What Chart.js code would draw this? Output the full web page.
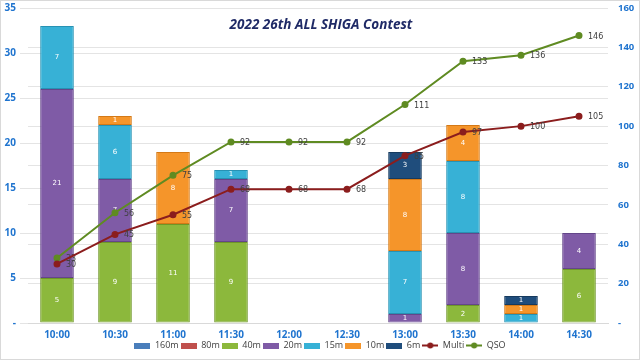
<!DOCTYPE html>
<html>
<head>
<meta charset="utf-8">
<script src="https://cdn.jsdelivr.net/npm/chart.js@4.4.0/dist/chart.umd.min.js"></script>
<style>
html,body{margin:0;padding:0;background:#fff;}
#wrap{width:640px;height:360px;position:relative;}
</style>
</head>
<body>
<div id="wrap"><canvas id="myChart"></canvas></div>
<script>
'use strict';
var timeLabels=['10:00','10:30','11:00','11:30','12:00','12:30','13:00','13:30','14:00','14:30'];
var band160m=[0,0,0,0,0,0,0,0,0,0];
var band80m=[0,0,0,0,0,0,0,0,0,0];
var band40m=[5,9,11,9,0,0,0,2,0,6];
var band20m=[21,7,0,7,0,0,1,8,0,4];
var band15m=[7,6,0,1,0,0,7,8,1,0];
var band10m=[0,1,8,0,0,0,8,4,1,0];
var band6m=[0,0,0,0,0,0,3,0,1,0];
var multiTotal=[30,45,55,68,68,68,85,97,100,105];
var qsoTotal=[33,56,75,92,92,92,111,133,136,146];
var leftTicks=[0,5,10,15,20,25,30,35];
var rightTicks=[0,20,40,60,80,100,120,140,160];

var tickBlue='#1f74cf';
var bandColors=['#4a7ebb','#c0504d','#8cb83c','#7f5ba6','#37b1d6','#f5952a','#1f4d7c'];
var bandBorders=['#3a6598','#9c3e3b','#6f9629','#64468a','#2792b3','#d47916','#163a5e'];
var multiColor='#8b1d1d';
var qsoColor='#5f8b22';

function swatch(color,isLine){
  var c=document.createElement('canvas');
  c.width=16;c.height=isLine?7:6;
  var g=c.getContext('2d');
  if(isLine){
    g.strokeStyle=color;g.lineWidth=2;
    g.beginPath();g.moveTo(0,3.5);g.lineTo(16,3.5);g.stroke();
    g.fillStyle=color;g.beginPath();g.arc(8,3.5,3,0,Math.PI*2);g.fill();
  }else{
    g.fillStyle=color;g.fillRect(0,0,16,6);
  }
  return c;
}
var swatches=bandColors.map(function(c){return swatch(c,false);});
swatches.push(swatch(multiColor,true));
swatches.push(swatch(qsoColor,true));

function bandSet(name,data,i){
  return {
    type:'bar',label:name,data:data,yAxisID:'y',stack:'bands',order:2,
    backgroundColor:bandColors[i],borderColor:bandBorders[i],borderWidth:1,borderSkipped:false,
    categoryPercentage:1,barPercentage:0.58
  };
}
function lineSet(name,data,color){
  return {
    type:'line',label:name,data:data,yAxisID:'y1',order:1,
    borderColor:color,backgroundColor:color,borderWidth:2,
    pointRadius:2.5,pointHoverRadius:2.5,pointBackgroundColor:color,pointBorderColor:color,
    tension:0,fill:false
  };
}

var chartFrame={
  id:'chartFrame',
  beforeDraw:function(chart){
    var ctx=chart.ctx;
    ctx.save();
    ctx.fillStyle='#fff';ctx.fillRect(0,0,chart.width,chart.height);
    ctx.strokeStyle='#d9d9d9';ctx.lineWidth=1;
    ctx.strokeRect(0.5,0.5,chart.width-1,chart.height-1);
    ctx.restore();
  },
  afterDraw:function(chart){
    var ctx=chart.ctx;
    ctx.save();
    ctx.font='italic bold 13.5px "Open Sans"';
    ctx.fillStyle='#1f2a66';
    ctx.textAlign='center';ctx.textBaseline='middle';
    ctx.fillText('2022 26th ALL SHIGA Contest',321,25);
    ctx.restore();
  }
};

var valueLabels={
  id:'valueLabels',
  afterDatasetDraw:function(chart,args){
    var ds=chart.data.datasets[args.index];
    var ctx=chart.ctx;
    ctx.save();
    args.meta.data.forEach(function(el,j){
      var v=ds.data[j];
      if(!v) return;
      if(ds.type==='line'){
        ctx.font='8px "DejaVu Sans"';
        ctx.fillStyle='#404040';
        ctx.textAlign='left';ctx.textBaseline='middle';
        ctx.fillText(v,el.x+9,el.y+1);
      }else{
        ctx.font='7px "DejaVu Sans"';
        ctx.fillStyle='#ffffff';
        ctx.textAlign='center';ctx.textBaseline='middle';
        ctx.fillText(v,el.x,(el.y+el.base)/2);
      }
    });
    ctx.restore();
  }
};

var tickFont={family:'"Open Sans"',size:10,weight:'bold'};
var ctx=document.getElementById('myChart').getContext('2d');
var chart=new Chart(ctx,{
  data:{
    labels:timeLabels,
    datasets:[
      bandSet('160m',band160m,0),
      bandSet('80m',band80m,1),
      bandSet('40m',band40m,2),
      bandSet('20m',band20m,3),
      bandSet('15m',band15m,4),
      bandSet('10m',band10m,5),
      bandSet('6m',band6m,6),
      lineSet('Multi',multiTotal,multiColor),
      lineSet('QSO',qsoTotal,qsoColor)
    ]
  },
  options:{
    responsive:true,maintainAspectRatio:false,animation:false,
    layout:{padding:{top:8,bottom:0,left:0,right:0}},
    plugins:{
      title:{display:false},
      tooltip:{enabled:false},
      legend:{
        position:'bottom',
        labels:{
          usePointStyle:true,pointStyleWidth:16,boxHeight:9,padding:2,
          color:'#404040',font:{family:'"Open Sans"',size:9},
          sort:function(a,b){return a.datasetIndex-b.datasetIndex;},
          generateLabels:function(chart){
            var items=Chart.defaults.plugins.legend.labels.generateLabels(chart);
            items.forEach(function(it){it.pointStyle=swatches[it.datasetIndex];});
            return items;
          }
        }
      }
    },
    scales:{
      x:{
        stacked:true,
        grid:{display:false,drawTicks:false},
        border:{display:true,color:'#d9d9d9'},
        ticks:{color:tickBlue,font:tickFont,padding:6},
        afterFit:function(s){s.height=16;}
      },
      y:{
        position:'left',stacked:true,min:0,max:35,
        afterBuildTicks:function(s){s.ticks=leftTicks.map(function(v){return {value:v};});},
        grid:{color:'#e4e4e4'},
        border:{display:false},
        ticks:{color:tickBlue,font:tickFont,padding:4,
          callback:function(v){return v===0?'-':v;}},
        afterFit:function(s){s.width=28;s.paddingTop=0;s.paddingBottom=0;}
      },
      y1:{
        position:'right',min:0,max:160,
        afterBuildTicks:function(s){s.ticks=rightTicks.map(function(v){return {value:v};});},
        grid:{color:'#e4e4e4',drawTicks:false},
        border:{display:false},
        ticks:{color:tickBlue,font:{family:'"Open Sans"',size:9.5,weight:'bold'},padding:10,
          callback:function(v){return v===0?'-':v;}},
        afterFit:function(s){s.width=32;s.paddingTop=0;s.paddingBottom=0;}
      }
    }
  },
  plugins:[chartFrame,valueLabels]
});
</script>
</body>
</html>
